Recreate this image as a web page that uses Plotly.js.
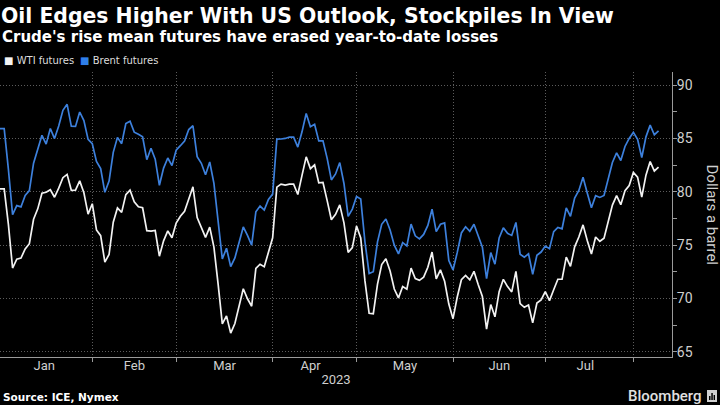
<!DOCTYPE html>
<html>
<head>
<meta charset="utf-8">
<script src="https://cdn.plot.ly/plotly-3.0.1.min.js"></script>
<style>
  html, body { margin: 0; padding: 0; background: #000; }
  #chart { width: 720px; height: 405px; }
</style>
</head>
<body>
<div id="chart"></div>
<script>
// ---- Data (daily closes, weekdays; holidays carry the last value) ----
const dates = [
  '2022-12-30',
  '2023-01-02','2023-01-03','2023-01-04','2023-01-05','2023-01-06','2023-01-09','2023-01-10','2023-01-11','2023-01-12','2023-01-13',
  '2023-01-16','2023-01-17','2023-01-18','2023-01-19','2023-01-20','2023-01-23','2023-01-24','2023-01-25','2023-01-26','2023-01-27',
  '2023-01-30','2023-01-31',
  '2023-02-01','2023-02-02','2023-02-03','2023-02-06','2023-02-07','2023-02-08','2023-02-09','2023-02-10','2023-02-13','2023-02-14',
  '2023-02-15','2023-02-16','2023-02-17','2023-02-20','2023-02-21','2023-02-22','2023-02-23','2023-02-24','2023-02-27','2023-02-28',
  '2023-03-01','2023-03-02','2023-03-03','2023-03-06','2023-03-07','2023-03-08','2023-03-09','2023-03-10','2023-03-13','2023-03-14',
  '2023-03-15','2023-03-16','2023-03-17','2023-03-20','2023-03-21','2023-03-22','2023-03-23','2023-03-24','2023-03-27','2023-03-28',
  '2023-03-29','2023-03-30','2023-03-31',
  '2023-04-03','2023-04-04','2023-04-05','2023-04-06','2023-04-07','2023-04-10','2023-04-11','2023-04-12','2023-04-13','2023-04-14',
  '2023-04-17','2023-04-18','2023-04-19','2023-04-20','2023-04-21','2023-04-24','2023-04-25','2023-04-26','2023-04-27','2023-04-28',
  '2023-05-01','2023-05-02','2023-05-03','2023-05-04','2023-05-05','2023-05-08','2023-05-09','2023-05-10','2023-05-11','2023-05-12',
  '2023-05-15','2023-05-16','2023-05-17','2023-05-18','2023-05-19','2023-05-22','2023-05-23','2023-05-24','2023-05-25','2023-05-26',
  '2023-05-29','2023-05-30','2023-05-31',
  '2023-06-01','2023-06-02','2023-06-05','2023-06-06','2023-06-07','2023-06-08','2023-06-09','2023-06-12','2023-06-13','2023-06-14',
  '2023-06-15','2023-06-16','2023-06-19','2023-06-20','2023-06-21','2023-06-22','2023-06-23','2023-06-26','2023-06-27','2023-06-28',
  '2023-06-29','2023-06-30',
  '2023-07-03','2023-07-04','2023-07-05','2023-07-06','2023-07-07','2023-07-10','2023-07-11','2023-07-12','2023-07-13','2023-07-14',
  '2023-07-17','2023-07-18','2023-07-19','2023-07-20','2023-07-21','2023-07-24','2023-07-25','2023-07-26','2023-07-27','2023-07-28',
  '2023-07-31',
  '2023-08-01','2023-08-02','2023-08-03','2023-08-04','2023-08-07','2023-08-08'
];

const wti = [
  80.26, 80.26, 76.93, 72.84, 73.67, 73.77, 74.63, 75.12, 77.41, 78.39,
  79.86, 79.95, 80.18, 79.48, 80.33, 81.31, 81.62, 80.13, 80.15, 81.01,
  79.90, 77.90, 78.87, 76.41, 75.88, 73.39, 74.11, 77.14, 78.47, 78.06,
  79.72, 80.14, 79.06, 78.59, 78.49, 76.34, 76.30, 76.36, 73.95, 75.39,
  76.32, 75.68, 77.05, 77.69, 78.16, 79.40, 80.46, 77.58, 76.66, 75.72,
  76.68, 74.80, 71.33, 67.61, 68.35, 66.74, 67.64, 69.33, 70.90, 69.96,
  69.26, 72.81, 73.20, 72.97, 74.37, 75.67, 80.42, 80.71, 80.61, 80.70,
  80.70, 79.74, 81.53, 83.26, 82.16, 82.52, 80.83, 80.86, 79.16, 77.37,
  77.87, 78.76, 77.07, 74.30, 74.76, 76.78, 75.66, 71.66, 68.60, 68.56,
  71.34, 73.16, 73.71, 72.56, 70.87, 70.04, 71.11, 70.86, 72.83, 71.86,
  71.69, 71.99, 72.91, 74.34, 71.83, 72.67, 71.60, 69.46, 68.09, 70.10,
  71.74, 72.15, 71.74, 72.53, 71.29, 70.17, 67.12, 69.42, 68.27, 70.62,
  71.78, 71.10, 70.60, 72.53, 69.51, 69.16, 69.37, 67.70, 69.56, 69.86,
  70.64, 69.79, 70.80, 71.79, 71.80, 73.86, 72.99, 74.83, 75.75, 76.89,
  75.42, 74.15, 75.75, 75.35, 75.63, 77.07, 78.74, 79.63, 78.78, 80.09,
  80.58, 81.80, 81.37, 79.49, 81.55, 82.82, 81.94, 82.30
];

const brent = [
  85.91, 85.91, 82.10, 77.84, 78.69, 78.57, 79.65, 80.10, 82.67, 84.03,
  85.28, 84.46, 85.92, 84.98, 86.16, 87.63, 88.19, 86.13, 86.12, 87.47,
  86.66, 84.90, 84.49, 82.84, 82.17, 79.94, 80.99, 83.69, 85.09, 84.50,
  86.39, 86.61, 85.58, 85.38, 85.14, 83.00, 84.07, 83.05, 80.60, 82.21,
  83.16, 82.45, 83.89, 84.31, 84.75, 85.83, 86.18, 83.29, 82.66, 81.59,
  82.78, 80.77, 77.45, 73.69, 74.70, 72.97, 73.79, 75.32, 76.69, 75.91,
  74.99, 78.12, 78.65, 78.28, 79.27, 79.77, 84.93, 84.94, 84.99, 85.12,
  85.12, 84.18, 85.61, 87.33, 86.09, 86.31, 84.76, 84.77, 83.12, 81.10,
  81.66, 82.73, 80.77, 77.69, 78.37, 79.54, 79.31, 75.32, 72.33, 72.50,
  75.30, 76.94, 77.44, 76.41, 74.98, 74.17, 75.23, 74.91, 76.96, 75.86,
  75.58, 75.99, 76.84, 78.36, 76.26, 76.95, 77.07, 73.54, 72.66, 74.28,
  76.13, 76.71, 76.29, 76.95, 75.96, 74.79, 71.84, 74.29, 73.20, 75.67,
  76.61, 76.09, 75.90, 77.12, 74.14, 73.85, 74.18, 72.26, 74.03, 74.34,
  74.90, 74.65, 76.25, 76.65, 76.52, 78.47, 77.69, 79.40, 80.11, 81.36,
  79.87, 78.50, 79.63, 79.46, 79.64, 81.07, 82.74, 83.64, 82.92, 84.24,
  84.99, 85.56, 84.91, 83.20, 85.14, 86.24, 85.34, 85.70
];

const seriesNames  = ['WTI futures', 'Brent futures'];
const seriesColors = ['#f2f2f2', '#3d80dc'];
const legendColors = ['#f4f4f4', '#2f7fea'];

// closes are plotted at the end of their trading day
const xClose = dates.map(d => d + ' 23:00');

// ---- Layout helpers (text placement only) ----
const PL = 0, PR = 672, PT = 72, PB = 357;
const px = x => (x - PL) / (PR - PL);
const py = y => (PB - y) / (PB - PT);

const grey = '#9a9a9a';
const gridGrey = '#5c5c5c';
const labelGrey = '#cfcfcf';
const headFont = 'DejaVu Sans, sans-serif';

const traces = [
  { type: 'scatter', mode: 'lines', x: xClose, y: wti, name: seriesNames[0],
    line: { color: seriesColors[0], width: 1.7 }, showlegend: false, hoverinfo: 'skip' },
  { type: 'scatter', mode: 'lines', x: xClose, y: brent, name: seriesNames[1],
    line: { color: seriesColors[1], width: 1.7 }, showlegend: false, hoverinfo: 'skip' }
];

const layout = {
  width: 720, height: 405,
  paper_bgcolor: '#000', plot_bgcolor: '#000',
  margin: { l: PL, r: 720 - PR, t: PT, b: 405 - PB, pad: 0 },
  font: { family: 'Roboto, sans-serif', color: labelGrey },
  showlegend: false,
  title: {
    text: 'Oil Edges Higher With US Outlook, Stockpiles In View',
    xref: 'container', yref: 'container',
    x: 1 / 720, xanchor: 'left',
    y: 1 - 16 / 405, yanchor: 'middle',
    font: { family: headFont, size: 20.4, color: '#ffffff', weight: 'bold' }
  },
  xaxis: {
    type: 'date',
    range: ['2022-12-30 23:00', '2023-08-14 04:00'],
    rangebreaks: [{ bounds: ['sat', 'mon'] }],
    tick0: '2023-01-01', dtick: 'M1', tickformat: '%b', ticklabelmode: 'period',
    ticks: 'outside', ticklen: 4, tickcolor: grey, tickwidth: 1,
    ticklabelstandoff: -8,
    showline: true, linecolor: grey, linewidth: 1,
    showgrid: true, gridcolor: gridGrey, gridwidth: 1, griddash: '1px,2px',
    zeroline: false, fixedrange: true,
    tickfont: { family: 'Roboto, sans-serif', size: 13, color: labelGrey },
    title: { text: '2023', standoff: 3, font: { family: 'Roboto, sans-serif', size: 13, color: labelGrey } }
  },
  yaxis: {
    side: 'right',
    range: [64.5, 91.22],
    tick0: 65, dtick: 5,
    ticks: 'outside', ticklen: 4, tickcolor: grey, tickwidth: 1,
    ticklabelstandoff: -3,
    showline: true, linecolor: grey, linewidth: 1,
    showgrid: true, gridcolor: gridGrey, gridwidth: 1, griddash: '1px,2px',
    zeroline: false, fixedrange: true,
    tickfont: { family: 'Roboto, sans-serif', size: 14, color: labelGrey },
    minor: { tick0: 65, dtick: 2.5, ticks: 'outside', ticklen: 4, tickcolor: grey, showgrid: false }
  },
  annotations: [
    { text: "<b>Crude's rise mean futures have erased year-to-date losses</b>",
      xref: 'paper', yref: 'paper', x: px(0), y: py(37), xanchor: 'left', yanchor: 'middle',
      showarrow: false, font: { family: headFont, size: 15, color: '#ffffff' } },
    { text: '<span style="color:' + legendColors[0] + '">■</span> ' + seriesNames[0],
      xref: 'paper', yref: 'paper', x: px(2), y: py(60.5), xanchor: 'left', yanchor: 'middle',
      showarrow: false, font: { family: 'DejaVu Sans, sans-serif', size: 10, color: '#dddddd' } },
    { text: '<span style="color:' + legendColors[1] + '">■</span> ' + seriesNames[1],
      xref: 'paper', yref: 'paper', x: px(78), y: py(60.5), xanchor: 'left', yanchor: 'middle',
      showarrow: false, font: { family: 'DejaVu Sans, sans-serif', size: 10, color: '#dddddd' } },
    { text: 'Dollars a barrel',
      xref: 'paper', yref: 'paper', x: px(712), y: 0.5, xanchor: 'center', yanchor: 'middle',
      textangle: 90, showarrow: false,
      font: { family: 'Roboto, sans-serif', size: 15, color: labelGrey } },
    { text: '<b>Source: ICE, Nymex</b>',
      xref: 'paper', yref: 'paper', x: px(1), y: py(397), xanchor: 'left', yanchor: 'middle',
      showarrow: false, font: { family: 'DejaVu Sans, sans-serif', size: 10.5, color: '#ffffff' } },
    { text: 'Bloomberg',
      xref: 'paper', yref: 'paper', x: px(704), y: py(396), xanchor: 'right', yanchor: 'middle',
      showarrow: false, font: { family: 'Roboto, sans-serif', size: 15, color: '#e0e0e0', weight: 500 } }
  ],
  shapes: [
    { type: 'rect', xref: 'paper', yref: 'paper', x0: px(707), x1: px(717), y0: py(402), y1: py(390),
      fillcolor: '#d0d0d0', line: { width: 0 } },
    { type: 'rect', xref: 'paper', yref: 'paper', x0: px(709), x1: px(710.5), y0: py(400), y1: py(396),
      fillcolor: '#000', line: { width: 0 } },
    { type: 'rect', xref: 'paper', yref: 'paper', x0: px(711.3), x1: px(712.8), y0: py(400), y1: py(393),
      fillcolor: '#000', line: { width: 0 } },
    { type: 'rect', xref: 'paper', yref: 'paper', x0: px(713.6), x1: px(715), y0: py(400), y1: py(395),
      fillcolor: '#000', line: { width: 0 } }
  ]
};

Plotly.newPlot('chart', traces, layout, { staticPlot: true, displayModeBar: false });
</script>
</body>
</html>
